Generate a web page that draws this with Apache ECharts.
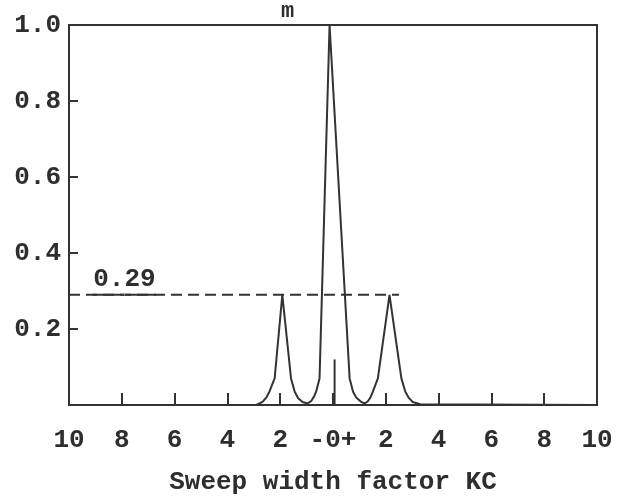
<!DOCTYPE html>
<html>
<head>
<meta charset="utf-8">
<script src="https://cdn.jsdelivr.net/npm/echarts@6/dist/echarts.min.js"></script>
<style>
html,body{margin:0;padding:0;background:#fff;}
#chart{width:625px;height:498px;}
</style>
</head>
<body>
<div id="chart"></div>
<script>
// ---- data ----
var xTickValues = [-10, -8, -6, -4, -2, 0, 2, 4, 6, 8, 10];
var xTickLabels = ["10", "8", "6", "4", "2", "-0+", "2", "4", "6", "8", "10"];
var yTickValues = [0, 0.2, 0.4, 0.6, 0.8, 1.0];
var yTickLabels = ["", "0.2", "0.4", "0.6", "0.8", "1.0"];

// response curve: sweep width factor (x) vs relative amplitude (y)
var curveX = [-10, -2.9, -2.67, -2.52, -2.41, -2.21, -1.92, -1.59, -1.45, -1.32, -1.15, -0.97,
              -0.83, -0.72, -0.64, -0.51, -0.13, 0.63, 0.76, 0.88, 1.07, 1.2,
              1.32, 1.42, 1.51, 1.70, 2.14, 2.59, 2.74, 2.88, 3.02, 3.3, 10];
var curveY = [0, 0, 0.008, 0.02, 0.035, 0.07, 0.29, 0.07, 0.035, 0.018, 0.008, 0.004,
              0.01, 0.022, 0.035, 0.07, 1.0, 0.07, 0.035, 0.02, 0.008, 0.004,
              0.01, 0.02, 0.035, 0.07, 0.29, 0.07, 0.035, 0.018, 0.008, 0.002, 0];

// dashed reference level
var levelValue = 0.29;
var levelLabel = "0.29";
var levelX = [-10, 2.5];
var levelLabelX = -7.9;
var underlineX = [-9.1, -6.7];

// centre marker
var centreX = [0.06, 0.06];
var centreY = [0, 0.12];

var xTitle = "Sweep width factor KC";
var topMark = "m";

// ---- build ----
function pairs(xs, ys) { return xs.map(function (x, i) { return [x, ys[i]]; }); }

var FONT = "Liberation Mono";
var INK = "#333";
var TXT = "#2e2e2e";

var chart = echarts.init(document.getElementById('chart'), null, {renderer: 'canvas'});
chart.setOption({
  backgroundColor: '#fff',
  animation: false,
  grid: {left: 69, right: 28, top: 25, bottom: 93, containLabel: false, outerBoundsMode: 'none',
         show: true, borderColor: INK, borderWidth: 2, backgroundColor: 'transparent'},
  xAxis: {
    type: 'value', min: -10, max: 10, interval: 2,
    axisLine: {show: true, onZero: false, lineStyle: {color: INK, width: 2}},
    axisTick: {show: true, inside: true, length: 12, lineStyle: {color: INK, width: 2}},
    splitLine: {show: false},
    axisLabel: {
      margin: 22, color: TXT, fontFamily: FONT, fontSize: 26, fontWeight: 'bold',
      formatter: function (v) { var i = xTickValues.indexOf(Math.round(v)); return i >= 0 ? xTickLabels[i] : ''; }
    },
    name: xTitle, nameLocation: 'middle', nameGap: 64,
    nameTextStyle: {color: TXT, fontFamily: FONT, fontSize: 26, fontWeight: 'bold'}
  },
  yAxis: {
    type: 'value', min: 0, max: 1, interval: 0.2,
    axisLine: {show: true, onZero: false, lineStyle: {color: INK, width: 2}},
    axisTick: {show: true, inside: true, length: 9, lineStyle: {color: INK, width: 2}},
    splitLine: {show: false},
    axisLabel: {
      margin: 8, color: TXT, fontFamily: FONT, fontSize: 26, fontWeight: 'bold',
      formatter: function (v) {
        for (var i = 0; i < yTickValues.length; i++) { if (Math.abs(yTickValues[i] - v) < 1e-6) return yTickLabels[i]; }
        return '';
      }
    }
  },
  graphic: [{
    type: 'text', left: 281, top: 0,
    style: {text: topMark, font: 'bold 22px "Liberation Mono"', fill: TXT}
  }],
  series: [
    {
      type: 'line', data: pairs(curveX, curveY), symbol: 'none', smooth: false,
      lineStyle: {color: INK, width: 2}
    },
    {
      type: 'line', symbol: 'none',
      data: [[levelX[0], levelValue], [levelX[1], levelValue]],
      lineStyle: {color: INK, width: 2, type: [11, 6]}
    },
    {
      type: 'line', symbol: 'none',
      data: [[underlineX[0], levelValue], [underlineX[1], levelValue]],
      lineStyle: {color: INK, width: 2}
    },
    {
      type: 'line', symbol: 'none', data: pairs(centreX, centreY),
      lineStyle: {color: INK, width: 2},
      markPoint: {
        symbol: 'circle', symbolSize: 1,
        itemStyle: {color: '#fff', opacity: 1},
        label: {show: true, position: 'top', distance: 2, color: TXT, fontFamily: FONT, fontSize: 26, fontWeight: 'bold', textBorderWidth: 0},
        data: [{coord: [levelLabelX, levelValue], value: levelLabel, label: {formatter: levelLabel}}]
      }
    }
  ]
});
</script>
</body>
</html>
